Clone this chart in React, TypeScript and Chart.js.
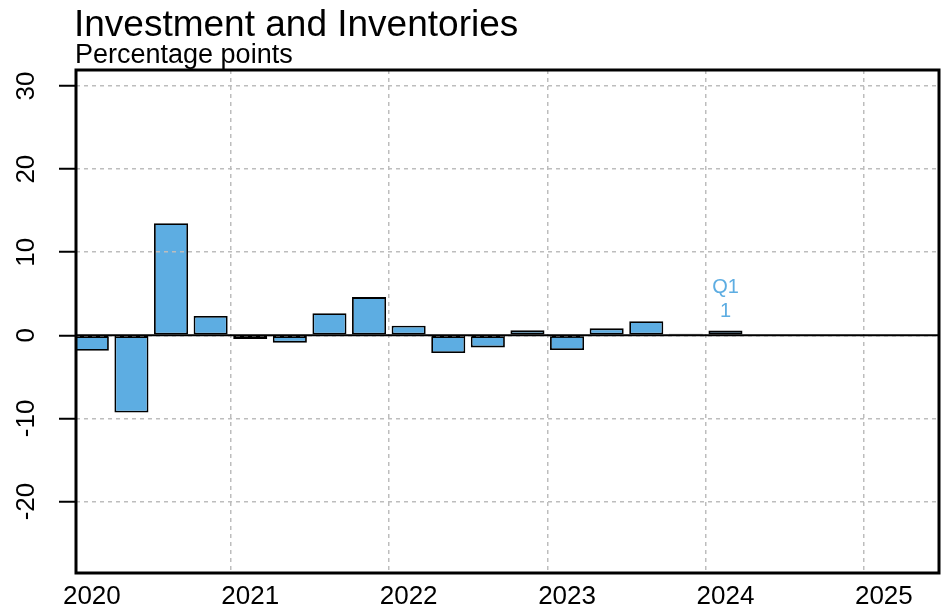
import React, { useEffect, useRef } from "react";
import { Chart, registerables } from "chart.js";

Chart.register(...registerables);

const TITLE = "Investment and Inventories";
const SUBTITLE = "Percentage points";
const QUARTERS = [
  "2020 Q1", "2020 Q2", "2020 Q3", "2020 Q4",
  "2021 Q1", "2021 Q2", "2021 Q3", "2021 Q4",
  "2022 Q1", "2022 Q2", "2022 Q3", "2022 Q4",
  "2023 Q1", "2023 Q2", "2023 Q3", "2023 Q4",
  "2024 Q1",
];
const VALUES = [
  -1.85, -9.3, 13.5, 2.33,
  -0.45, -0.88, 2.65, 4.6,
  1.15, -2.13, -1.45, 0.6,
  -1.77, 0.84, 1.7, 0.18,
  0.57,
];
const Y_TICKS = [-20, -10, 0, 10, 20, 30];
const X_TICKS = [2020, 2021, 2022, 2023, 2024, 2025];
const LAST_LABEL = ["Q1", "1"];

const FONT = "'Liberation Sans', Arial, Helvetica, sans-serif";
const BAR = "#5dade2";
const GRID = "#bdbdbd";

function quarterX(label: string): number {
  const [yr, q] = label.split(" ");
  return Number(yr) + (Number(q.slice(1)) - 1) * 0.25 + 0.125;
}

const decor = {
  id: "decor",
  afterDraw(chart: any) {
    const { ctx, chartArea, scales } = chart;
    const { left, right, top, bottom } = chartArea;
    const y0 = scales.y.getPixelForValue(0);
    ctx.save();
    ctx.strokeStyle = "#000";
    ctx.setLineDash([]);
    ctx.lineWidth = 2;
    ctx.beginPath();
    ctx.moveTo(left, y0);
    ctx.lineTo(right, y0);
    ctx.stroke();
    ctx.lineWidth = 3;
    ctx.strokeRect(left, top, right - left, bottom - top);

    ctx.fillStyle = "#000";
    ctx.textAlign = "left";
    ctx.textBaseline = "alphabetic";
    ctx.font = `37px ${FONT}`;
    ctx.fillText(TITLE, 74, 36);
    ctx.font = `27px ${FONT}`;
    ctx.fillText(SUBTITLE, 75, 63);

    const meta = chart.getDatasetMeta(0);
    const el = meta.data[meta.data.length - 1];
    ctx.fillStyle = BAR;
    ctx.textAlign = "center";
    ctx.font = `20px ${FONT}`;
    ctx.fillText(LAST_LABEL[0], el.x, y0 - 42);
    ctx.fillText(LAST_LABEL[1], el.x, y0 - 18);
    ctx.restore();
  },
};

export default function App() {
  const ref = useRef<HTMLCanvasElement | null>(null);
  useEffect(() => {
    document.body.style.margin = "0";
    Chart.defaults.font.family = FONT;
    const chart = new Chart(ref.current as HTMLCanvasElement, {
      type: "bar",
      data: {
        datasets: [
          {
            data: QUARTERS.map((q, i) => ({ x: quarterX(q), y: VALUES[i] })),
            backgroundColor: BAR,
            borderColor: "#000",
            borderWidth: 1.8,
            borderSkipped: false,
            barPercentage: 0.86,
            categoryPercentage: 1,
          } as any,
        ],
      },
      options: {
        responsive: false,
        animation: false,
        layout: { padding: { left: 0, top: 70, right: 8, bottom: 0 } },
        plugins: { legend: { display: false }, tooltip: { enabled: false }, title: { display: false } },
        scales: {
          x: {
            type: "linear",
            offset: false,
            min: 2020.025,
            max: 2025.473,
            afterBuildTicks: (s: any) => {
              s.ticks = X_TICKS.map((v) => ({ value: v }));
            },
            afterFit: (s: any) => {
              s.height = 37;
            },
            grid: {
              z: 1,
              offset: false,
              color: (c: any) => (c.tick && c.tick.value === X_TICKS[0] ? "rgba(0,0,0,0)" : GRID),
              lineWidth: 1.5,
              drawTicks: false,
            },
            border: { display: false, dash: [4, 4] },
            ticks: {
              autoSkip: false,
              minRotation: 0,
              maxRotation: 0,
              labelOffset: 19.8,
              padding: 8,
              color: "#000",
              font: { size: 26 },
              callback: (v: any) => String(v),
            },
          },
          y: {
            type: "linear",
            min: -28.6,
            max: 31.93,
            afterBuildTicks: (s: any) => {
              s.ticks = Y_TICKS.map((v) => ({ value: v }));
            },
            afterFit: (s: any) => {
              s.width = 76;
            },
            grid: {
              z: 1,
              color: GRID,
              lineWidth: 1.5,
              drawTicks: true,
              tickLength: 17,
              tickColor: "#000",
              tickWidth: 2,
              tickBorderDash: [],
            },
            border: { display: false, dash: [4, 4] },
            ticks: {
              minRotation: 90,
              maxRotation: 90,
              crossAlign: "center",
              padding: 13.5,
              color: "#000",
              font: { size: 26 },
              callback: (v: any) => String(v),
            },
          },
        },
      } as any,
      plugins: [decor],
    });
    return () => chart.destroy();
  }, []);
  return (
    <div style={{ position: "absolute", left: 0, top: 0, width: 947, height: 610 }}>
      <canvas ref={ref} width={947} height={610} />
    </div>
  );
}
